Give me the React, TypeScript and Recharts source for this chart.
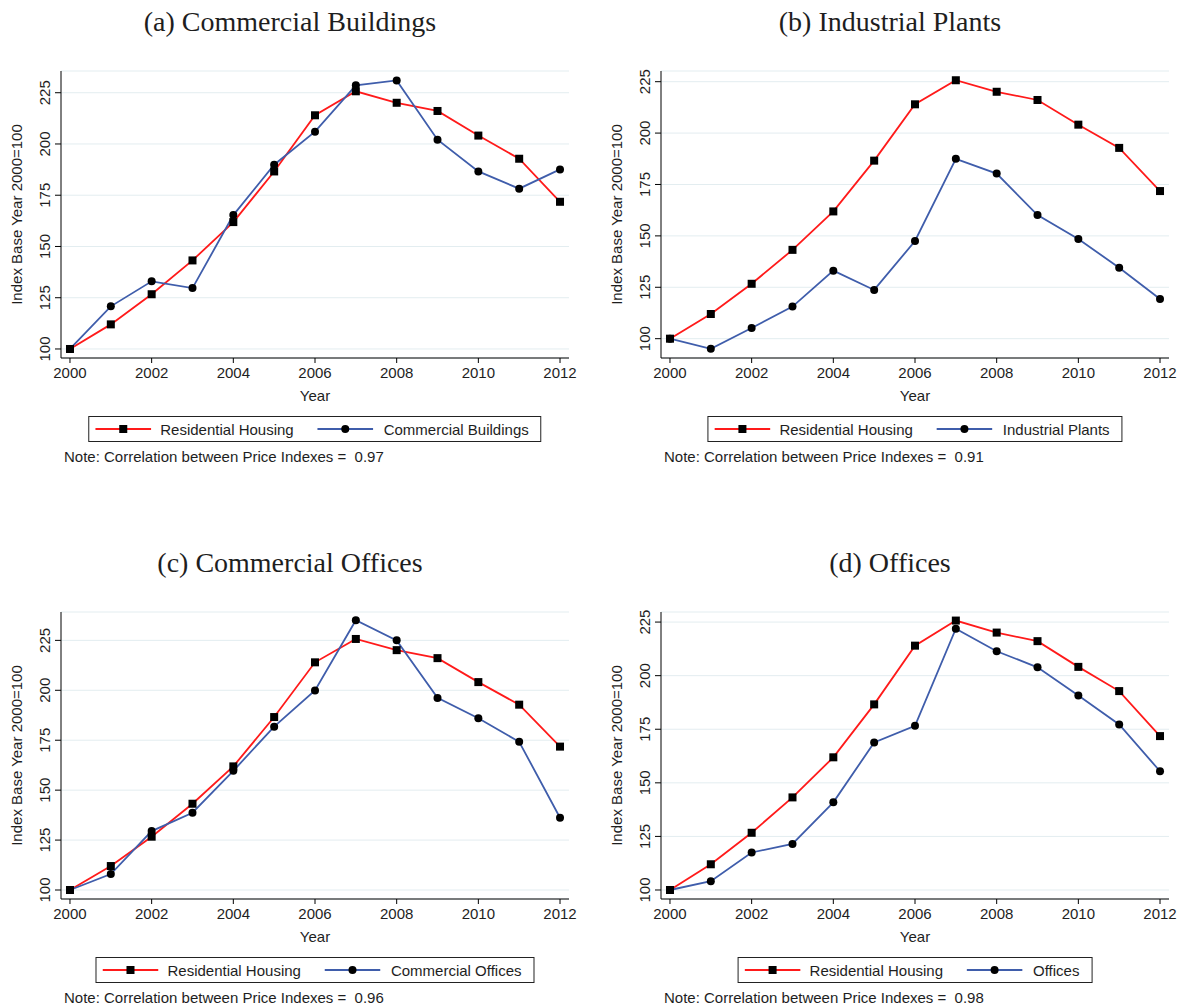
import * as React from "react";
import { CartesianGrid, Line, LineChart, XAxis, YAxis } from "recharts";

// values (index, 2000 = 100)
const YEARS = [2000, 2001, 2002, 2003, 2004, 2005, 2006, 2007, 2008, 2009, 2010, 2011, 2012];
const RESIDENTIAL = [100, 112.0, 126.7, 143.2, 161.9, 186.6, 214.0, 225.7, 220.1, 216.1, 204.1, 192.8, 171.8];
const COMMERCIAL_BUILDINGS = [100, 120.8, 133.0, 129.7, 165.3, 189.9, 206.0, 228.6, 231.0, 202.1, 186.6, 178.2, 187.6];
const INDUSTRIAL_PLANTS = [100, 95.1, 105.2, 115.6, 133.1, 123.7, 147.5, 187.5, 180.3, 160.1, 148.5, 134.5, 119.3];
const COMMERCIAL_OFFICES = [100, 108.0, 129.5, 138.7, 159.7, 181.8, 199.9, 235.1, 225.0, 196.2, 186.0, 174.2, 136.2];
const OFFICES = [100, 104.1, 117.5, 121.5, 140.9, 168.8, 176.6, 221.9, 211.4, 203.9, 190.7, 177.2, 155.4];

const X_TICKS = [2000, 2002, 2004, 2006, 2008, 2010, 2012];
const Y_TICKS = [100, 125, 150, 175, 200, 225];

const RED = "#ff1a1a";
const BLUE = "#3f5dab";
const SANS = "'Liberation Sans', Arial, sans-serif";
const SERIF = "'Liberation Serif', 'Times New Roman', serif";
const INK = "#1e1e1e";

const PANELS = [
  { title: "(a) Commercial Buildings", name: "Commercial Buildings", values: COMMERCIAL_BUILDINGS, corr: "0.97", yDomain: [95.6, 235.6], left: 0, top: 0 },
  { title: "(b) Industrial Plants", name: "Industrial Plants", values: INDUSTRIAL_PLANTS, corr: "0.91", yDomain: [90.6, 230.2], left: 600, top: 0 },
  { title: "(c) Commercial Offices", name: "Commercial Offices", values: COMMERCIAL_OFFICES, corr: "0.96", yDomain: [95.5, 239.2], left: 0, top: 541 },
  { title: "(d) Offices", name: "Offices", values: OFFICES, corr: "0.98", yDomain: [95.8, 229.7], left: 600, top: 541 },
];

const SquareDot = (props: any) => {
  const { cx, cy, index } = props;
  if (cx == null || cy == null) return <g key={index} />;
  return <rect key={index} x={cx - 4} y={cy - 4} width={8} height={8} fill="#000" />;
};

const YTick = ({ x, y, payload }: any) => (
  <text
    transform={`translate(${x - 3},${y}) rotate(-90)`}
    textAnchor="middle"
    fontSize={15}
    fontFamily={SANS}
    fill={INK}
  >
    {payload.value}
  </text>
);

function LegendSwatch({ color, marker }: { color: string; marker: "square" | "circle" }) {
  return (
    <svg width={56} height={12} style={{ display: "block" }}>
      <line x1={0} y1={6} x2={56} y2={6} stroke={color} strokeWidth={2} />
      {marker === "square" ? <rect x={24} y={2} width={8} height={8} fill="#000" /> : <circle cx={28} cy={6} r={4} fill="#000" />}
    </svg>
  );
}

function Panel({ p }: { p: (typeof PANELS)[number] }) {
  const data = YEARS.map((year, i) => ({ year, res: RESIDENTIAL[i], other: p.values[i] }));
  return (
    <div style={{ position: "absolute", left: p.left, top: p.top, width: 600, height: 480 }}>
      <LineChart width={600} height={400} data={data} margin={{ top: 71, right: 31, left: 0, bottom: 0 }}>
        <CartesianGrid vertical={false} stroke="#e3edf0" strokeWidth={1} />
        <XAxis
          type="number"
          dataKey="year"
          domain={[1999.78, 2012.22]}
          ticks={X_TICKS}
          allowDataOverflow
          height={42}
          tickSize={5}
          tickMargin={4}
          stroke="#000"
          tick={{ fontSize: 15, fontFamily: SANS, fill: INK }}
        />
        <YAxis
          type="number"
          domain={p.yDomain}
          ticks={Y_TICKS}
          allowDataOverflow
          width={61}
          tickSize={6}
          stroke="#000"
          tick={<YTick />}
        />
        <Line
          dataKey="res"
          stroke={RED}
          strokeWidth={1.8}
          dot={<SquareDot />}
          activeDot={false}
          isAnimationActive={false}
        />
        <Line
          dataKey="other"
          stroke={BLUE}
          strokeWidth={1.8}
          dot={{ r: 4, fill: "#000", stroke: "none" }}
          activeDot={false}
          isAnimationActive={false}
        />
      </LineChart>
      <svg width={600} height={480} style={{ position: "absolute", left: 0, top: 0, pointerEvents: "none" }}>
        <text x={290} y={31} textAnchor="middle" fontFamily={SERIF} fontSize={28} fill={INK}>
          {p.title}
        </text>
        <text transform="translate(22,214.5) rotate(-90)" textAnchor="middle" fontFamily={SANS} fontSize={15} fill={INK}>
          Index Base Year 2000=100
        </text>
        <text x={315} y={401} textAnchor="middle" fontFamily={SANS} fontSize={15} fill={INK}>
          Year
        </text>
        <text x={64} y={462} fontFamily={SANS} fontSize={15} fill={INK} style={{ whiteSpace: "pre" }}>
          {`Note: Correlation between Price Indexes =  ${p.corr}`}
        </text>
      </svg>
      <div
        style={{
          position: "absolute",
          top: 416,
          left: 315,
          transform: "translateX(-50%)",
          height: 24,
          border: "1px solid #222",
          display: "flex",
          alignItems: "center",
          padding: "0 12px 0 6px",
          whiteSpace: "nowrap",
          fontFamily: SANS,
          fontSize: 15,
          color: INK,
          background: "#fff",
        }}
      >
        <LegendSwatch color={RED} marker="square" />
        <span style={{ marginLeft: 9 }}>Residential Housing</span>
        <span style={{ width: 24 }} />
        <LegendSwatch color={BLUE} marker="circle" />
        <span style={{ marginLeft: 10 }}>{p.name}</span>
      </div>
    </div>
  );
}

export default function App() {
  return (
    <div style={{ position: "absolute", left: 0, top: 0, width: 1182, height: 1008, background: "#fff" }}>
      {PANELS.map((p) => (
        <Panel key={p.title} p={p} />
      ))}
    </div>
  );
}
